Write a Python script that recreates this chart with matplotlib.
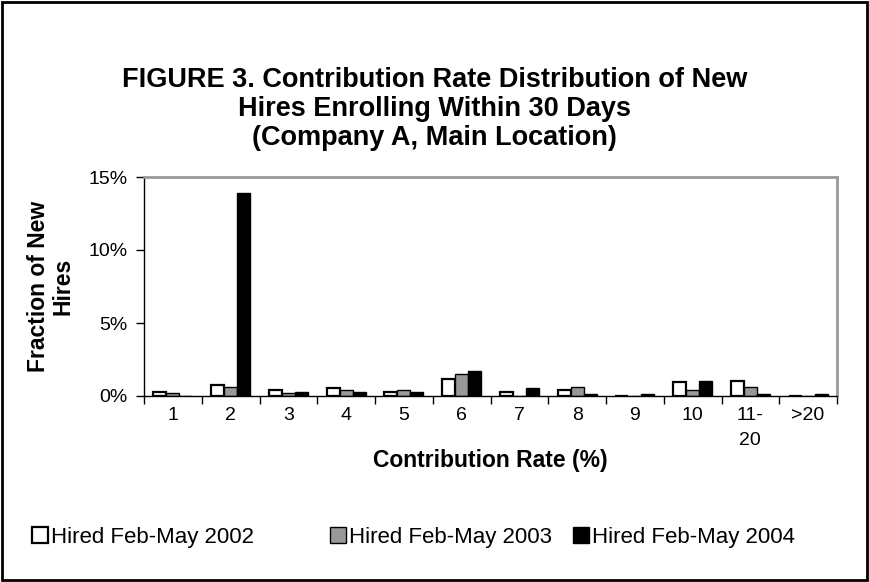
import matplotlib
matplotlib.use("Agg")
import matplotlib.pyplot as plt
import numpy as np
from matplotlib.patches import Rectangle

plt.rcParams['font.family'] = ['Liberation Sans', 'DejaVu Sans']

categories = ["1", "2", "3", "4", "5", "6", "7", "8", "9", "10", "11-\n20", ">20"]
hired_2002 = [0.27, 0.77, 0.39, 0.52, 0.27, 1.16, 0.27, 0.41, 0.0, 0.93, 1.05, 0.0]
hired_2003 = [0.18, 0.59, 0.18, 0.39, 0.39, 1.48, 0.0, 0.59, 0.0, 0.39, 0.59, 0.0]
hired_2004 = [0.0, 13.9, 0.25, 0.25, 0.25, 1.69, 0.52, 0.14, 0.14, 1.03, 0.14, 0.14]
series_labels = ["Hired Feb-May 2002", "Hired Feb-May 2003", "Hired Feb-May 2004"]
series_colors = ["white", "#999999", "black"]

fig = plt.figure(figsize=(8.69, 5.82), dpi=100)
ax = fig.add_axes([144/869, 1-396/582, (837-144)/869, (396-177)/582])

x = np.arange(len(categories))
w = 0.225
handles = []
for i, (vals, lab, col) in enumerate(zip([hired_2002, hired_2003, hired_2004], series_labels, series_colors)):
    b = ax.bar(x + (i-1)*w, vals, width=w, color=col, edgecolor="black",
               linewidth=1.6 if i == 0 else 1.0, label=lab)
    handles.append(b)

ax.set_xlim(-0.5, len(categories)-0.5)
ax.set_ylim(0, 15)
ax.set_yticks([0, 5, 10, 15])
ax.set_yticklabels(["0%", "5%", "10%", "15%"], fontsize=14)
ax.set_xticks(x)
ax.set_xticklabels(categories, fontsize=14, linespacing=1.6, va="top")
ax.set_xticks(np.arange(-0.5, len(categories), 1.0), minor=True)
ax.tick_params(axis="x", which="major", length=0, pad=8)
ax.tick_params(axis="x", which="minor", length=6, width=1, direction="out")
ax.tick_params(axis="y", length=6, width=1, direction="out", pad=6)

for s in ["top", "right"]:
    ax.spines[s].set_color("#999999")
    ax.spines[s].set_linewidth(2)
for s in ["left", "bottom"]:
    ax.spines[s].set_color("black")
    ax.spines[s].set_linewidth(1)

ax.set_xlabel("Contribution Rate (%)", fontsize=16.5, fontweight="bold")
ax.xaxis.set_label_coords(0.5, (396-460)/219)
ax.xaxis.label.set_va("center")
ax.set_ylabel("Fraction of New\nHires", fontsize=16.5, fontweight="bold", linespacing=1.1)
ax.yaxis.set_label_coords((51-144)/693, 0.5)
ax.yaxis.label.set_va("center")

for txt, yy in [("FIGURE 3. Contribution Rate Distribution of New", 80),
                ("Hires Enrolling Within 30 Days", 109),
                ("(Company A, Main Location)", 138)]:
    fig.text(0.5, 1-yy/582, txt, ha="center", va="center", fontsize=19.5, fontweight="bold")

for h, lab, xpx in zip(handles, series_labels, [32, 330, 573]):
    fig.legend([h], [lab], loc="center left", bbox_to_anchor=(xpx/869, 1-537/582),
               frameon=False, fontsize=16, handlelength=0.7, handleheight=0.7,
               handletextpad=0.15, borderaxespad=0, borderpad=0)

fig.patches.append(Rectangle((2/869, 2/582), 865/869, 578/582, transform=fig.transFigure,
                             fill=False, edgecolor="black", linewidth=2))

fig.savefig("out.png", dpi=100)
